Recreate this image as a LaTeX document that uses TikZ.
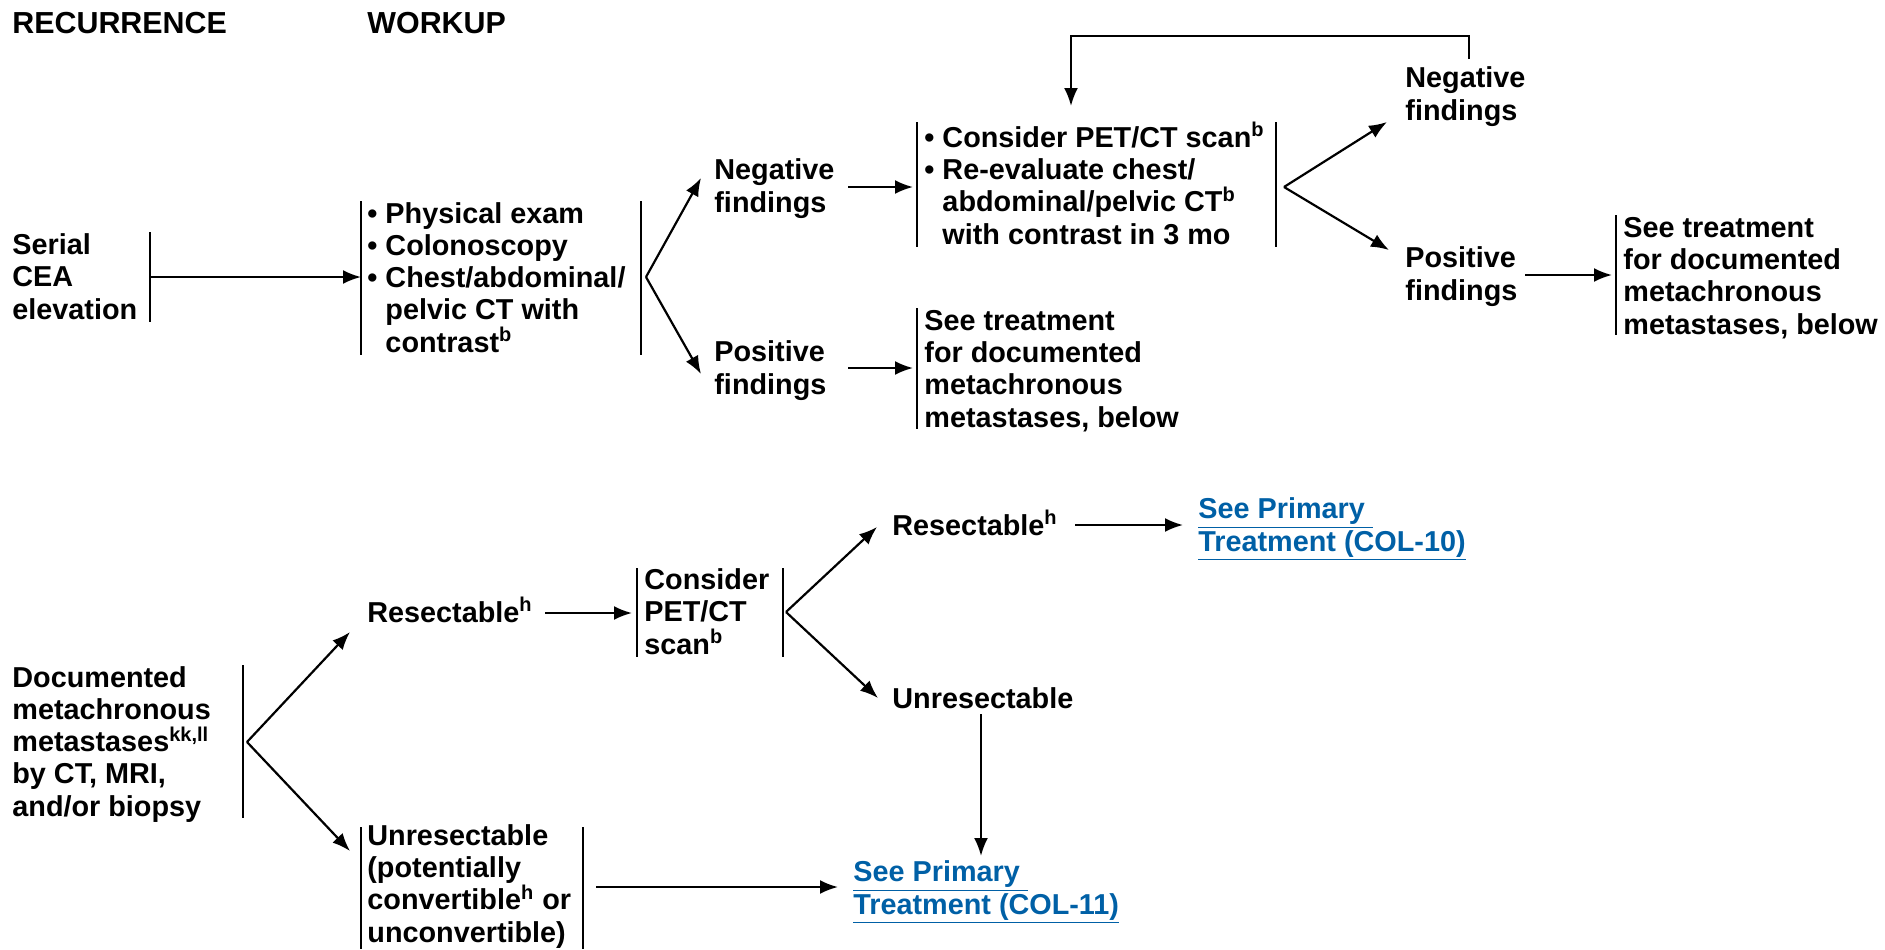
\documentclass[tikz,border=0pt]{standalone}
\usepackage{fontspec}
\setmainfont{Liberation Sans}
\usetikzlibrary{arrows.meta}
\definecolor{linkblue}{RGB}{0,96,166}
\tikzset{
  txt/.style={font=\fontsize{14.4pt}{16.1pt}\selectfont\bfseries, align=left, inner sep=0pt, anchor=base west},
  hdr/.style={txt, font=\fontsize{15.2pt}{16.1pt}\selectfont\bfseries},
  lnk/.style={txt, text=linkblue},
  bar/.style={line width=1.1pt},
  arr/.style={line width=1.1pt, -{Latex[length=9pt,width=7pt]}}
}
\newcommand{\sps}[1]{\textsuperscript{#1}}
\newcommand{\bul}{\textbullet\ }
\newcommand{\ind}{\hphantom{\textbullet\ }}
\begin{document}
\begin{tikzpicture}[x=0.5pt,y=-0.5pt]
\useasboundingbox (0,0) rectangle (1885,949);

% headers (single line: base = baseline)
\node[hdr] (hrec) at (12,33) {RECURRENCE};
\node[hdr] (hwork) at (367,33) {WORKUP};

% multi-line nodes are placed by the baseline of their LAST line
% ---------- top section ----------
\node[txt] (serial) at (12,319) {Serial\\CEA\\elevation};
\draw[bar] (150,232) -- (150,322);
\coordinate (sbmid) at (150,277);

\node[txt] (workup) at (367,352) {\bul Physical exam\\\bul Colonoscopy\\\bul Chest/abdominal/\\\ind pelvic CT with\\\ind contrast\sps{b}};
\draw[bar] (361,201) -- (361,355);
\draw[bar] (641,201) -- (641,355);
\coordinate (win) at (361,277);
\coordinate (wapex) at (646,277);
\draw[arr] (sbmid) -- (win);

\node[txt] (neg1) at (714,212) {Negative\\findings};
\node[txt] (pos1) at (714,394) {Positive\\findings};
\coordinate (neg1in) at (701,178);
\coordinate (pos1in) at (701,374);
\draw[arr] (wapex) -- (neg1in);
\draw[arr] (wapex) -- (pos1in);

\node[txt] (pet) at (924,244) {\bul Consider PET/CT scan\sps{b}\\\bul Re-evaluate chest/\\\ind abdominal/pelvic CT\sps{b}\\\ind with contrast in 3 mo};
\draw[bar] (917,122) -- (917,247);
\draw[bar] (1276,122) -- (1276,247);
\coordinate (neg1out) at (848,187);
\coordinate (petin) at (913,187);
\draw[arr] (neg1out) -- (petin);
\coordinate (petapex) at (1284,187);

\node[txt] (see1) at (924,427) {See treatment\\for documented\\metachronous\\metastases, below};
\draw[bar] (917,308) -- (917,429);
\coordinate (pos1out) at (848,368);
\coordinate (see1in) at (913,368);
\draw[arr] (pos1out) -- (see1in);

\node[txt] (neg2) at (1405,120) {Negative\\findings};
\node[txt] (pos2) at (1405,300) {Positive\\findings};
\coordinate (neg2in) at (1387,122);
\coordinate (pos2in) at (1389,250);
\draw[arr] (petapex) -- (neg2in);
\draw[arr] (petapex) -- (pos2in);

\coordinate (neg2top) at (1469,59);
\coordinate (pettop) at (1071,106);
\draw[arr] (neg2top) |- (1071,36) -- (pettop);

\node[txt] (see2) at (1623,334) {See treatment\\for documented\\metachronous\\metastases, below};
\draw[bar] (1616,215) -- (1616,335);
\coordinate (pos2out) at (1525,275);
\coordinate (see2in) at (1612,275);
\draw[arr] (pos2out) -- (see2in);

% ---------- bottom section ----------
\node[txt] (doc) at (12,816) {Documented\\metachronous\\metastases\sps{kk,ll}\\by CT, MRI,\\and/or biopsy};
\draw[bar] (243,665) -- (243,818);
\coordinate (docapex) at (247,742);

\node[txt] (res1) at (367,622) {Resectable\sps{h}};
\coordinate (res1in) at (350,632);
\coordinate (unres1in) at (350,851);
\draw[arr] (docapex) -- (res1in);
\draw[arr] (docapex) -- (unres1in);

\node[txt] (petb) at (644,654) {Consider\\PET/CT\\scan\sps{b}};
\draw[bar] (637,568) -- (637,657);
\draw[bar] (783,568) -- (783,657);
\coordinate (res1out) at (545,613);
\coordinate (petbin) at (632,613);
\draw[arr] (res1out) -- (petbin);
\coordinate (petbapex) at (786,612);

\node[txt] (res2) at (892,535) {Resectable\sps{h}};
\node[txt] (unres2) at (892,708) {Unresectable};
\coordinate (res2in) at (877,527);
\coordinate (unres2in) at (878,698);
\draw[arr] (petbapex) -- (res2in);
\draw[arr] (petbapex) -- (unres2in);

\node[lnk] (col10) at (1198,551) {\underline{See Primary\ }\\\underline{Treatment (COL-10)}};
\coordinate (res2out) at (1075,525);
\coordinate (col10in) at (1183,525);
\draw[arr] (res2out) -- (col10in);

\node[lnk] (col11) at (853,914) {\underline{See Primary\ }\\\underline{Treatment (COL-11)}};
\coordinate (unres2out) at (981,714);
\coordinate (col11top) at (981,856);
\draw[arr] (unres2out) -- (col11top);

\node[txt] (unres1) at (367,942) {Unresectable\\(potentially\\convertible\sps{h} or\\unconvertible)};
\draw[bar] (361,827) -- (361,949);
\draw[bar] (583,827) -- (583,949);
\coordinate (unres1out) at (596,887);
\coordinate (col11in) at (838,887);
\draw[arr] (unres1out) -- (col11in);
\end{tikzpicture}
\end{document}
